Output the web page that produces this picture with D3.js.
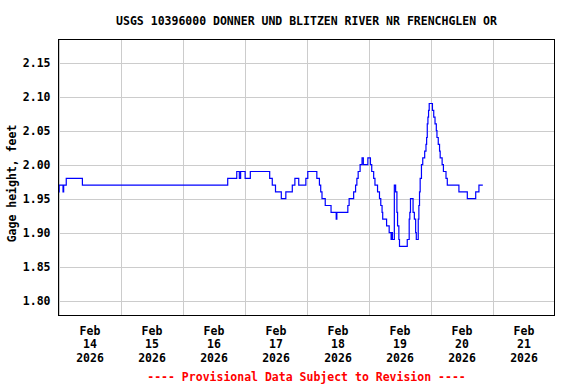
<!DOCTYPE html>
<html>
<head>
<meta charset="utf-8">
<script src="https://cdn.jsdelivr.net/npm/d3@7"></script>
<style>
body { margin: 0; background: #fff; }
text { font-family: "DejaVu Sans Mono", monospace; font-weight: bold; }
</style>
</head>
<body>
<div id="plot-gage"></div>
<script>
// Gage height plot

var stationTitle = "USGS 10396000 DONNER UND BLITZEN RIVER NR FRENCHGLEN OR";
var yLabel = "Gage height, feet";
var footNote = "---- Provisional Data Subject to Revision ----";

var startDate = "2026-02-14T00:00:00Z";
var endDate = "2026-02-22T00:00:00Z";

// hours after start where the reading changes, and the new reading
var hours = [0, 0.25, 1.75, 2.0, 3.0, 9.25, 65.5, 69.0, 70.0, 70.5, 72.25, 74.25,
    81.75, 82.75, 84.0, 86.25, 88.0, 90.5, 91.5, 93.0, 95.75, 96.5, 100.0, 101.0,
    101.5, 102.0, 103.25, 105.5, 107.5, 107.75, 112.0, 112.5, 114.25, 115.0, 115.5, 116.0,
    116.75, 117.5, 118.0, 119.75, 120.75, 121.25, 122.0, 122.5, 123.5, 124.25, 124.75, 125.25,
    125.5, 127.0, 128.0, 128.75, 129.0, 129.25, 130.0, 130.5, 131.0, 131.25, 131.75, 132.0,
    135.0, 135.75, 136.0, 136.25, 137.25, 137.75, 138.25, 138.5, 139.25, 139.5,
    139.75, 140.0, 140.5, 141.0, 141.75, 142.25, 142.5, 142.75, 143.0, 143.25, 143.5, 144.75,
    145.25, 145.75, 146.25, 146.5, 147.0, 147.5, 147.75, 148.5, 149.0, 150.0, 150.5, 155.0,
    158.25, 161.5, 162.75, 164.25];
var gageFt = [1.96, 1.97, 1.96, 1.97, 1.98, 1.97, 1.98, 1.99, 1.98, 1.99, 1.98, 1.99,
    1.98, 1.97, 1.96, 1.95, 1.96, 1.97, 1.98, 1.97, 1.98, 1.99, 1.98, 1.97,
    1.96, 1.95, 1.94, 1.93, 1.92, 1.93, 1.94, 1.95, 1.96, 1.97, 1.98, 1.99,
    2.00, 2.01, 2.00, 2.01, 2.00, 1.99, 1.98, 1.97, 1.96, 1.95, 1.94, 1.93,
    1.92, 1.91, 1.90, 1.89, 1.90, 1.89, 1.97, 1.96, 1.93, 1.91, 1.89, 1.88,
    1.89, 1.92, 1.93, 1.95, 1.93, 1.92, 1.90, 1.89, 1.92, 1.94,
    1.96, 1.98, 2.00, 2.01, 2.02, 2.03, 2.04, 2.06, 2.07, 2.08, 2.09, 2.08,
    2.07, 2.06, 2.05, 2.04, 2.03, 2.02, 2.01, 2.00, 1.99, 1.98, 1.97, 1.96,
    1.95, 1.96, 1.97, 1.97];

var yTicks = [1.80, 1.85, 1.90, 1.95, 2.00, 2.05, 2.10, 2.15];
var dayTicks = ["2026-02-14", "2026-02-15", "2026-02-16", "2026-02-17",
    "2026-02-18", "2026-02-19", "2026-02-20", "2026-02-21"];

var svgWidth = 576;
var svgHeight = 384;
var plotLeft = 58.5, plotRight = 554.5, plotTop = 39.5, plotBottom = 315.5;

var svg = d3.select("#plot-gage")
    .append("svg")
        .attr("width", svgWidth)
        .attr("height", svgHeight);

var t0 = Date.parse(startDate);
var data = hours.map(function(h, i) {
    return { date: new Date(t0 + h * 3600e3), value: gageFt[i] };
});

var x = d3.scaleUtc()
    .domain([new Date(startDate), new Date(endDate)])
    .range([plotLeft, plotRight]);

var y = d3.scaleLinear()
    .domain([1.7782, 2.1841])
    .range([plotBottom, plotTop]);

// grid lines
var dayDates = dayTicks.map(function(d) { return new Date(d + "T00:00:00Z"); });

svg.append("g")
    .attr("transform", "translate(0," + plotBottom + ")")
    .call(d3.axisBottom(x).tickValues(dayDates).tickSize(-(plotBottom - plotTop)).tickFormat(""))
    .call(function(g) { g.select(".domain").remove(); })
    .selectAll("line")
        .attr("stroke", "#cccccc")
        .attr("shape-rendering", "crispEdges");

svg.append("g")
    .attr("transform", "translate(" + plotLeft + ",0)")
    .call(d3.axisLeft(y).tickValues(yTicks).tickSize(-(plotRight - plotLeft)).tickFormat(""))
    .call(function(g) { g.select(".domain").remove(); })
    .selectAll("line")
        .attr("stroke", "#cccccc")
        .attr("shape-rendering", "crispEdges");

// y labels
svg.append("g")
    .attr("transform", "translate(" + plotLeft + ",0)")
    .call(d3.axisLeft(y).tickValues(yTicks).tickSize(0).tickPadding(8).tickFormat(d3.format(".2f")))
    .call(function(g) { g.select(".domain").remove(); })
    .selectAll("text")
        .attr("font-family", "DejaVu Sans Mono, monospace")
        .attr("font-weight", "bold")
        .attr("font-size", 11.5)
        .attr("fill", "#000");

// x labels at noon, three lines
var noonDates = dayDates.map(function(d) { return new Date(d.getTime() + 12 * 3600e3); });
var fmtMon = d3.utcFormat("%b"), fmtDay = d3.utcFormat("%d"), fmtYear = d3.utcFormat("%Y");

var xLab = svg.append("g")
    .attr("transform", "translate(0," + plotBottom + ")")
    .call(d3.axisBottom(x).tickValues(noonDates).tickSize(0).tickFormat(""));
xLab.select(".domain").remove();
xLab.selectAll(".tick text").remove();
xLab.selectAll(".tick").each(function(d) {
    var t = d3.select(this).append("text")
        .attr("text-anchor", "middle")
        .attr("font-size", 11.5)
        .attr("fill", "#000");
    t.append("tspan").attr("x", 0).attr("y", 19).text(fmtMon(d));
    t.append("tspan").attr("x", 0).attr("y", 32.5).text(fmtDay(d));
    t.append("tspan").attr("x", 0).attr("y", 46).text(fmtYear(d));
});

// gage line
var line = d3.line()
    .x(function(d) { return x(d.date); })
    .y(function(d) { return y(d.value); })
    .curve(d3.curveStepAfter);

svg.append("path")
    .datum(data)
    .attr("fill", "none")
    .attr("stroke", "#0000ff")
    .attr("stroke-width", 1.2)
    .attr("d", line);

// frame
svg.append("rect")
    .attr("x", plotLeft)
    .attr("y", plotTop)
    .attr("width", plotRight - plotLeft)
    .attr("height", plotBottom - plotTop)
    .attr("fill", "none")
    .attr("stroke", "#000")
    .attr("stroke-width", 1);

// title
svg.append("text")
    .attr("x", (plotLeft + plotRight) / 2)
    .attr("y", 25)
    .attr("text-anchor", "middle")
    .style("font-size", "11.5px")
    .text(stationTitle);

svg.append("text")
    .attr("transform", "translate(16," + 183.5 + ")rotate(-90)")
    .attr("text-anchor", "middle")
    .style("font-size", "11.5px")
    .text(yLabel);

svg.append("text")
    .attr("x", (plotLeft + plotRight) / 2)
    .attr("y", 381)
    .attr("text-anchor", "middle")
    .attr("fill", "#ff0000")
    .style("font-size", "11.5px")
    .text(footNote);
</script>
</body>
</html>
